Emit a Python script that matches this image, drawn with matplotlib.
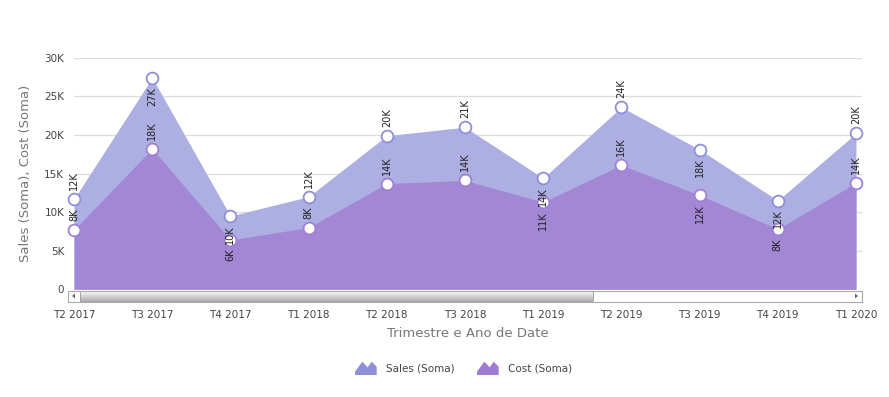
import numpy as np
import matplotlib.pyplot as plt
from matplotlib.patches import Rectangle, Polygon

# Dados
trimestres = ["T2 2017", "T3 2017", "T4 2017", "T1 2018", "T2 2018", "T3 2018",
              "T1 2019", "T2 2019", "T3 2019", "T4 2019", "T1 2020"]
sales = [11700, 27400, 9500, 12000, 19900, 21000, 14400, 23600, 18100, 11500, 20200]
cost = [7700, 18200, 6400, 8000, 13700, 14100, 11300, 16100, 12200, 7800, 13800]
# posicao do rotulo: 1 = acima do ponto, -1 = abaixo
pos_sales = [1, -1, -1, 1, 1, 1, -1, 1, -1, -1, 1]
pos_cost = [1, 1, -1, 1, 1, 1, -1, 1, -1, -1, 1]

cor_sales = "#adaee2"
cor_cost = "#a288d4"
borda_sales = "#8e8fd8"
borda_cost = "#a07fd6"

W, H = 889, 397
fig = plt.figure(figsize=(W / 100, H / 100), dpi=100)
ax = fig.add_axes([74 / W, (H - 289.3) / H, (862 - 74) / W, (289.3 - 57.7) / H])

x = np.arange(len(trimestres))
ax.fill_between(x, 0, sales, color=cor_sales, lw=0, zorder=2)
ax.fill_between(x, 0, cost, color=cor_cost, lw=0, zorder=3)
ax.plot(x, sales, ls="none", marker="o", ms=8.5, mfc="white", mec=borda_sales,
        mew=1.3, zorder=5, clip_on=False)
ax.plot(x, cost, ls="none", marker="o", ms=8.5, mfc="white", mec=borda_cost,
        mew=1.3, zorder=5, clip_on=False)


def rotulo(v):
    return f"{int(v / 1000 + 0.5)}K"


for serie, posicoes in [(sales, pos_sales), (cost, pos_cost)]:
    for i, (v, p) in enumerate(zip(serie, posicoes)):
        ax.annotate(rotulo(v), (i, v), xytext=(0, 6.5 * p), textcoords="offset points",
                    rotation=90, ha="center", va="bottom" if p > 0 else "top",
                    fontsize=7, color="#222222", zorder=6)

ax.set_xlim(0, 10.077)
ax.set_ylim(0, 30000)
ax.set_yticks(np.arange(0, 30001, 5000))
ax.set_yticklabels(["0"] + [f"{k}K" for k in range(5, 31, 5)])
ax.set_xticks(x)
ax.set_xticklabels(trimestres)
ax.tick_params(axis="both", length=0, labelsize=7.5, labelcolor="#444444")
ax.tick_params(axis="x", pad=15)
ax.tick_params(axis="y", pad=7)
ax.grid(axis="y", color="#dddddd", lw=0.9, zorder=0)
ax.set_axisbelow(True)
for s in ax.spines.values():
    s.set_visible(False)
ax.set_xlabel("Trimestre e Ano de Date", fontsize=9.5, color="#777777", labelpad=5)
ax.set_ylabel("Sales (Soma), Cost (Soma)", fontsize=9.5, color="#777777", labelpad=9)

# camada por cima para barra de rolagem e legenda (em pixels)
ov = fig.add_axes([0, 0, 1, 1], zorder=10)
ov.axis("off")
ov.patch.set_alpha(0)

# barra de rolagem
ov.add_patch(Rectangle((68, 290.5), 794, 11, fc="white", ec="#aaaaaa", lw=0.8))
grad = np.concatenate([np.linspace(0.97, 0.93, 4), np.linspace(0.92, 0.70, 16)]).reshape(-1, 1)
ov.imshow(grad, extent=(80, 593, 301, 291), cmap="gray", vmin=0, vmax=1,
          aspect="auto", zorder=2)
ov.add_patch(Rectangle((80, 291), 513, 10, fc="none", ec="#999999", lw=0.6, zorder=3))
ov.add_patch(Polygon([[72, 296], [75, 293.5], [75, 298.5]], fc="#666666", lw=0))
ov.add_patch(Polygon([[858, 296], [855, 293.5], [855, 298.5]], fc="#666666", lw=0))
ov.set_xlim(0, W)
ov.set_ylim(H, 0)

# legenda
icone = np.array([[0, 13.3], [0, 10], [7.3, 0], [12.7, 5.6], [16.7, 0], [21.7, 5], [21.7, 13.3]])
for x0, cor, nome in [(355, "#8e8fd8", "Sales (Soma)"), (477, "#9f7bd4", "Cost (Soma)")]:
    ov.add_patch(Polygon(icone + [x0, 361.7], fc=cor, lw=0))
    ov.text(x0 + 31, 368.5, nome, fontsize=7.5, color="#444444", va="center", ha="left")

fig.savefig("out.png", dpi=100)
